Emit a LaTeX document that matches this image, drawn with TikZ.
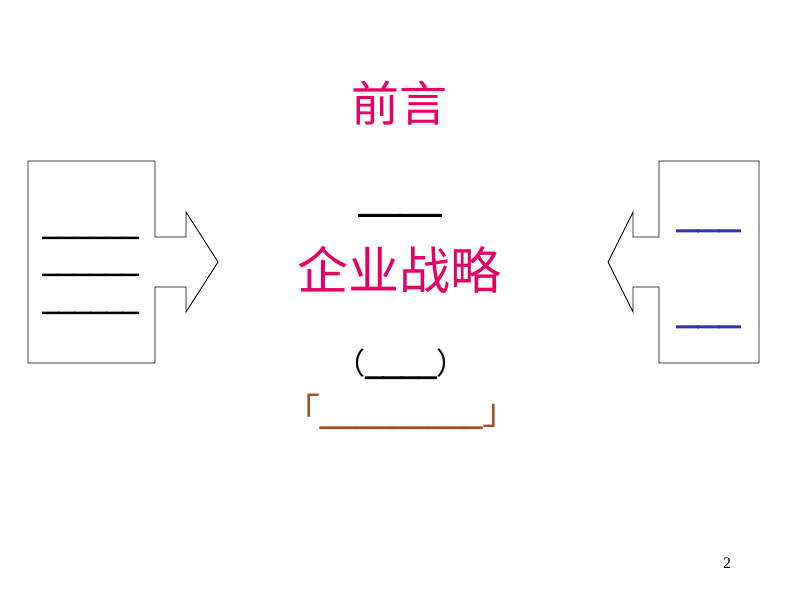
\documentclass[tikz,border=0pt]{standalone}
\usepackage{fontspec}
\setmainfont{Liberation Serif}
\newfontfamily\cjk{Noto Sans CJK SC}
\newfontfamily\ulfont[FakeBold=2.5]{Liberation Serif}
\definecolor{hotpink}{RGB}{230,0,100}
\definecolor{navyblue}{RGB}{51,51,170}
\definecolor{rustbrown}{RGB}{160,80,40}
\begin{document}
\begin{tikzpicture}[x=1pt,y=-1pt,
  callout/.style={draw=black,line width=0.9pt,line join=miter},
  txt/.style={inner sep=0pt,outer sep=0pt,anchor=base}]
\useasboundingbox (0,0) rectangle (800,600);
% left callout
\draw[callout] (28,161) -- (155,161) -- (155,237) -- (186,237) -- (186,212) -- (218,262)
  -- (186,312) -- (186,287) -- (155,287) -- (155,363) -- (28,363) -- cycle;
% right callout
\draw[callout] (759,161) -- (659,161) -- (659,237) -- (633,237) -- (633,212) -- (608,262)
  -- (633,312) -- (633,287) -- (659,287) -- (659,363) -- (759,363) -- cycle;
% left lines
\node[txt] (l1) at (90.5,234.5) {\fontsize{32}{36}\ulfont \_\_\_\_\_\_};
\node[txt] (l2) at (90.5,271.5) {\fontsize{32}{36}\ulfont \_\_\_\_\_\_};
\node[txt] (l3) at (90.5,309.5) {\fontsize{32}{36}\ulfont \_\_\_\_\_\_};
% right lines
\node[txt,text=navyblue] (r1) at (708.5,226.5) {\fontsize{42}{46}\ulfont \_\_\_};
\node[txt,text=navyblue] (r2) at (708.5,322.5) {\fontsize{42}{46}\ulfont \_\_\_};
% center
\node[txt,text=hotpink] (title) at (399,121) {\fontsize{48}{52}\selectfont\cjk 前言};
\node[txt] (dash) at (400,225) {\fontsize{41}{45}\ulfont ——};
\node[txt,text=hotpink] (main) at (399,289) {\fontsize{51}{55}\selectfont\cjk 企业战略};
\node[txt] (paren) at (401,374) {\fontsize{30}{34}\selectfont{\cjk （}\fontsize{35.5}{38}\ulfont\_\_\_\_\fontsize{30}{34}\selectfont{\cjk ）}};
\node[txt,text=rustbrown] (brk) at (401,424) {\fontsize{36}{40}\selectfont{\cjk 「}{\ulfont\_\_\_\_\_\_\_\_\_}{\cjk 」}};
\node[txt] (page) at (727,568) {\fontsize{16}{18}\selectfont 2};
\end{tikzpicture}
\end{document}
